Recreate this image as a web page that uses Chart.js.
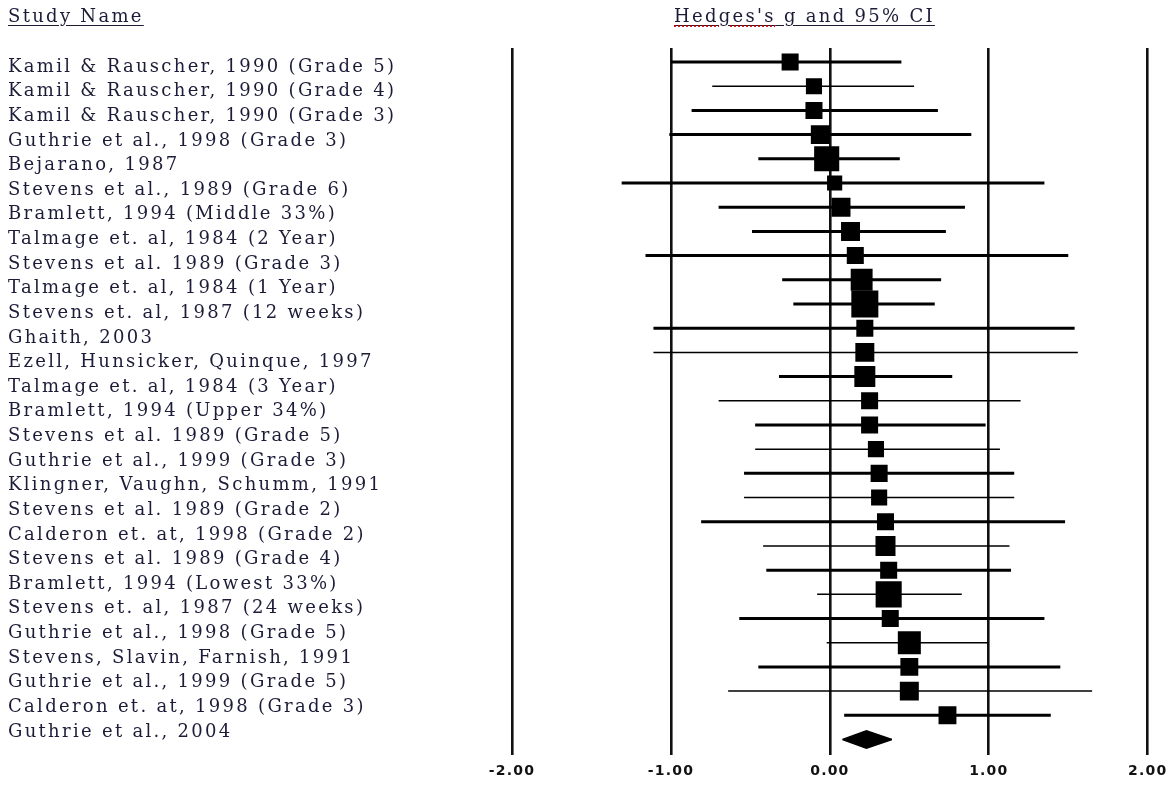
<!DOCTYPE html>
<html>
<head>
<meta charset="utf-8">
<title>Forest plot</title>
<script src="https://cdn.jsdelivr.net/npm/chart.js@4.4.1/dist/chart.umd.min.js"></script>
<style>
  html, body { margin: 0; padding: 0; background: #fff; }
  #wrap { position: relative; width: 1173px; height: 785px; }
  #forest { position: absolute; left: 0; top: 0; }
  .head {
    position: absolute; top: 5px;
    font-family: "DejaVu Serif", serif; font-size: 18px; color: #1c1c38;
    letter-spacing: 2.3px;
    text-decoration: underline; text-underline-offset: 3px;
  }
  .spell { text-decoration: underline dotted #d00000; text-underline-offset: 4px; }
</style>
</head>
<body>
<div id="wrap">
  <canvas id="forest" width="1173" height="785"></canvas>
  <div class="head" style="left:8px">Study Name</div>
  <div class="head" style="left:674px"><span class="spell">Hedges's</span> g and 95% CI</div>
</div>
<script>
// datos
const studies = [
  'Kamil & Rauscher, 1990 (Grade 5)',
  'Kamil & Rauscher, 1990 (Grade 4)',
  'Kamil & Rauscher, 1990 (Grade 3)',
  'Guthrie et al., 1998 (Grade 3)',
  'Bejarano, 1987',
  'Stevens et al., 1989 (Grade 6)',
  'Bramlett, 1994 (Middle 33%)',
  'Talmage et. al, 1984 (2 Year)',
  'Stevens et al. 1989 (Grade 3)',
  'Talmage et. al, 1984 (1 Year)',
  'Stevens et. al, 1987 (12 weeks)',
  'Ghaith, 2003',
  'Ezell, Hunsicker, Quinque, 1997',
  'Talmage et. al, 1984 (3 Year)',
  'Bramlett, 1994 (Upper 34%)',
  'Stevens et al. 1989 (Grade 5)',
  'Guthrie et al., 1999 (Grade 3)',
  'Klingner, Vaughn, Schumm, 1991',
  'Stevens et al. 1989 (Grade 2)',
  'Calderon et. at, 1998 (Grade 2)',
  'Stevens et al. 1989 (Grade 4)',
  'Bramlett, 1994 (Lowest 33%)',
  'Stevens et. al, 1987 (24 weeks)',
  'Guthrie et al., 1998 (Grade 5)',
  'Stevens, Slavin, Farnish, 1991',
  'Guthrie et al., 1999 (Grade 5)',
  'Calderon et. at, 1998 (Grade 3)',
  'Guthrie et al., 2004'
];
const hedgesG = [-0.25, -0.10, -0.10, -0.06, -0.02, 0.03, 0.07, 0.13, 0.16, 0.20,
                 0.22, 0.22, 0.22, 0.22, 0.25, 0.25, 0.29, 0.31, 0.31, 0.35,
                 0.35, 0.37, 0.37, 0.38, 0.50, 0.50, 0.50, 0.74];
const lowerCI = [-1.00, -0.74, -0.87, -1.01, -0.45, -1.31, -0.70, -0.49, -1.16, -0.30,
                 -0.23, -1.11, -1.11, -0.32, -0.70, -0.47, -0.47, -0.54, -0.54, -0.81,
                 -0.42, -0.40, -0.08, -0.57, -0.02, -0.45, -0.64, 0.09];
const upperCI = [0.45, 0.53, 0.68, 0.89, 0.44, 1.35, 0.85, 0.73, 1.50, 0.70,
                 0.66, 1.54, 1.56, 0.77, 1.20, 0.98, 1.07, 1.16, 1.16, 1.48,
                 1.13, 1.14, 0.83, 1.35, 1.00, 1.45, 1.65, 1.39];
// peso relativo de cada estudio (area del cuadrado)
const weights = [2.9, 2.6, 2.9, 3.6, 6.3, 2.3, 3.6, 3.6, 2.9, 4.8,
                 7.3, 2.9, 3.6, 4.4, 2.9, 2.9, 2.6, 2.9, 2.6, 2.9,
                 4.0, 2.9, 6.8, 2.9, 5.3, 3.2, 3.6, 3.2];
// efecto combinado
const summary = { g: 0.23, lower: 0.08, upper: 0.39 };
const xTicks = [-2, -1, 0, 1, 2];

// estilos
const thinRows = [1, 12, 14, 16, 18, 20, 22, 24, 26];
const summaryRow = studies.length + 1;
const diamondHalf = 0.36;

// 1. Datasets
const squares = {
  label: 'g',
  data: hedgesG.map((g, i) => ({ x: g, y: i + 1 })),
  pointStyle: 'rect',
  pointRadius: weights.map(w => 10 * Math.sqrt(w) / (2 * Math.SQRT1_2)),
  backgroundColor: '#000',
  borderWidth: 0,
  showLine: false
};

const diamondTop = {
  label: 'sum-top',
  data: [
    { x: summary.lower, y: summaryRow },
    { x: summary.g, y: summaryRow - diamondHalf },
    { x: summary.upper, y: summaryRow }
  ],
  showLine: true, pointRadius: 0, borderWidth: 1.5, borderColor: '#000',
  backgroundColor: '#000', fill: '+1', tension: 0
};
const diamondBottom = {
  label: 'sum-bottom',
  data: [
    { x: summary.lower, y: summaryRow },
    { x: summary.g, y: summaryRow + diamondHalf },
    { x: summary.upper, y: summaryRow }
  ],
  showLine: true, pointRadius: 0, borderWidth: 1.5, borderColor: '#000',
  fill: false, tension: 0
};

const ciLines = studies.map((s, i) => ({
  label: s,
  data: [{ x: lowerCI[i], y: i + 1 }, { x: upperCI[i], y: i + 1 }],
  showLine: true,
  pointRadius: 0,
  borderColor: '#000',
  borderWidth: thinRows.includes(i) ? 1.5 : 3,
  borderCapStyle: 'butt',
  fill: false
}));

// espaciado de letras: nombres (antes de los datos) y eje x (despues)
const letterSpacingPlugin = {
  id: 'letterSpacing',
  beforeDraw: chart => { chart.ctx.letterSpacing = '2.3px'; },
  beforeDatasetsDraw: chart => { chart.ctx.letterSpacing = '1.2px'; },
  afterDraw: chart => { chart.ctx.letterSpacing = '0px'; }
};

// 2. Grafico
const ctx = document.getElementById('forest').getContext('2d');
const forestChart = new Chart(ctx, {
  type: 'scatter',
  data: { datasets: [squares, diamondTop, diamondBottom, ...ciLines] },
  plugins: [letterSpacingPlugin],
  options: {
    responsive: false,
    animation: false,
    layout: { padding: { left: 8, right: 25, top: 48, bottom: 0 } },
    plugins: {
      legend: { display: false },
      tooltip: { enabled: false }
    },
    scales: {
      x: {
        type: 'linear',
        min: -2, max: 2,
        afterBuildTicks: scale => { scale.ticks = xTicks.map(v => ({ value: v })); },
        afterFit: scale => { scale.height = 30; },
        grid: { color: '#111', lineWidth: 2.6, drawTicks: false },
        border: { display: false },
        ticks: {
          z: 1,
          padding: 8,
          color: '#111',
          font: { family: 'DejaVu Sans', size: 14, weight: 'bold' },
          callback: v => (v < 0 ? '-' : '') + Math.abs(v).toFixed(2)
        }
      },
      // eje de los datos (filas)
      y: {
        type: 'linear',
        display: false,
        reverse: true,
        min: 0.42, max: 29.64
      },
      // eje con los nombres de los estudios
      names: {
        type: 'linear',
        position: 'left',
        reverse: true,
        min: 0.23, max: 28.94,
        afterBuildTicks: scale => { scale.ticks = studies.map((s, i) => ({ value: i + 1 })); },
        afterFit: scale => { scale.width = 504; },
        grid: { display: false },
        border: { display: false },
        ticks: {
          crossAlign: 'far',
          padding: 0,
          color: '#1c1c38',
          font: { family: 'DejaVu Serif', size: 18 },
          callback: v => studies[v - 1]
        }
      }
    }
  }
});
</script>
</body>
</html>
